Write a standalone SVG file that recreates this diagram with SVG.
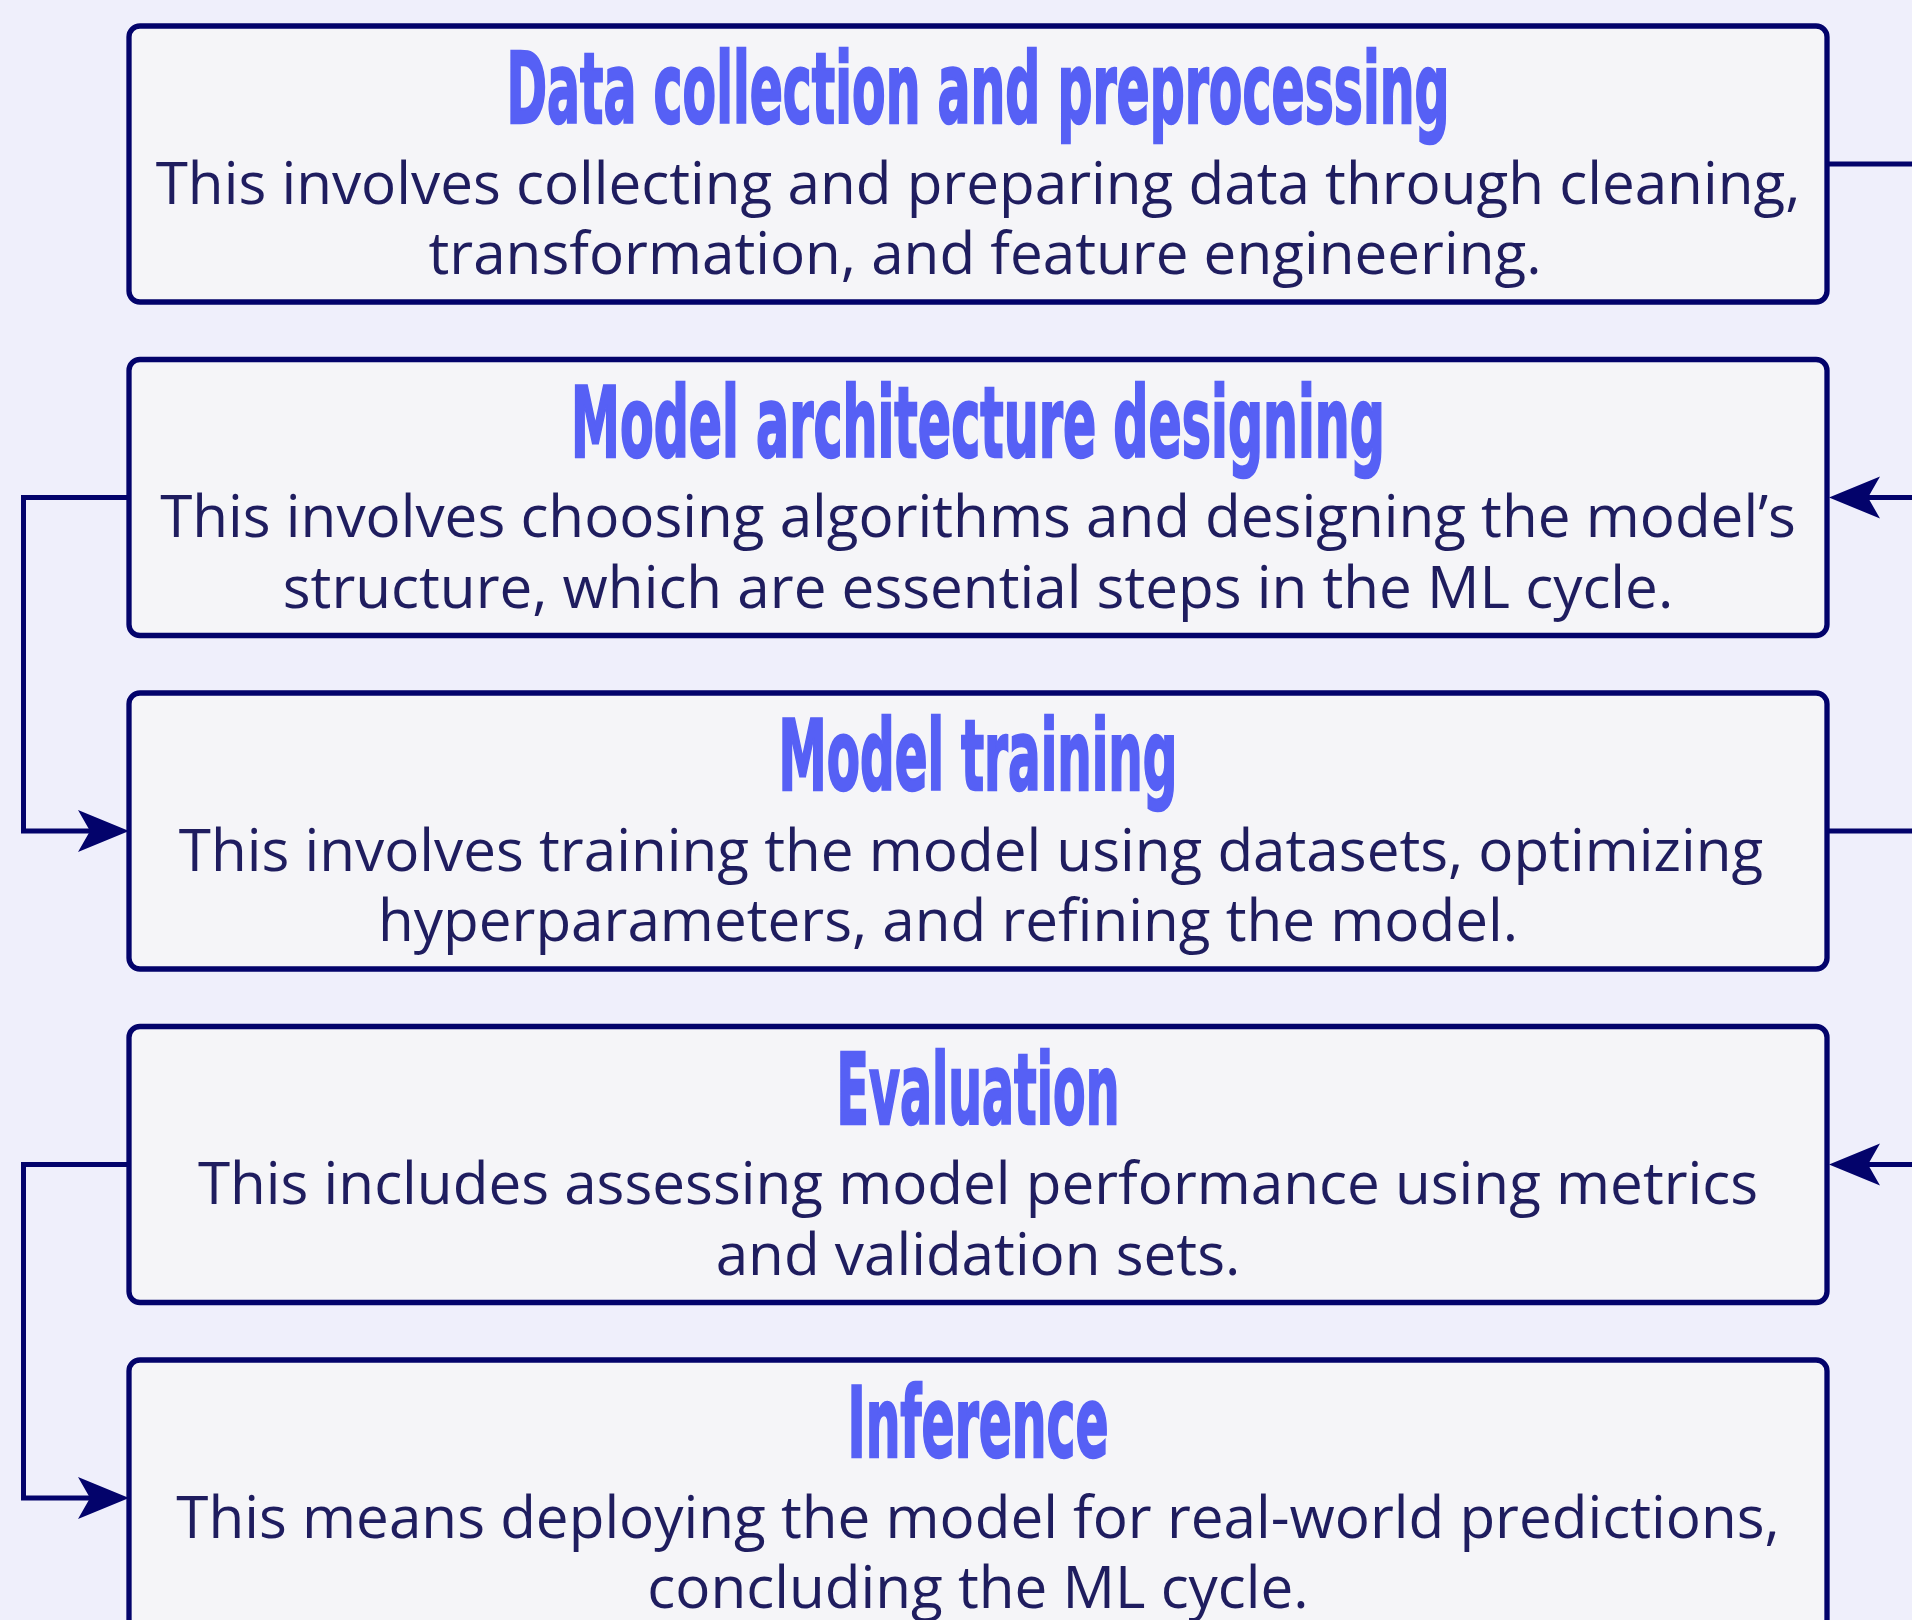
<svg xmlns="http://www.w3.org/2000/svg" width="1912" height="1620" viewBox="0 0 1912 1620">
<defs>
<style>
.box{fill:#f5f5f8;stroke:#03036b;stroke-width:5.3}
.title{font-family:"DejaVu Sans","Liberation Sans",sans-serif;font-weight:bold;font-size:98px;fill:#5660f5;stroke:#5660f5;stroke-width:2.5;text-anchor:middle}
.body{font-family:"Open Sans","Noto Sans",sans-serif;font-size:58.4px;fill:#1f1d5f;text-anchor:middle}
.conn{fill:none;stroke:#03036b;stroke-width:5}
</style>
<marker id="arr" markerUnits="userSpaceOnUse" viewBox="-13 -22 53 44" markerWidth="53" markerHeight="44" refX="0" refY="0" orient="auto">
<path d="M39,0 L-12,-21 L0,0 L-12,21 Z" fill="#03036b"/>
</marker>
</defs>
<rect x="0" y="0" width="1912" height="1620" fill="#efeffb"/>
<g id="connectors">
<path class="conn" d="M1827,164 H1920"/>
<path class="conn" d="M1920,497.5 H1868" marker-end="url(#arr)"/>
<path class="conn" d="M129,497.5 H23.5 V831 H90" marker-end="url(#arr)"/>
<path class="conn" d="M1827,831 H1920"/>
<path class="conn" d="M1920,1164.5 H1868" marker-end="url(#arr)"/>
<path class="conn" d="M129,1164.5 H23.5 V1498 H90" marker-end="url(#arr)"/>
</g>
<g id="node1">
<rect class="box" x="129" y="26" width="1698" height="276" rx="11"/>
<text class="title" x="978" y="123" textLength="943" lengthAdjust="spacingAndGlyphs">Data collection and preprocessing</text>
<text class="body" x="978" y="203.5">This involves collecting and preparing data through cleaning,</text>
<text class="body" x="985" y="274">transformation, and feature engineering.</text>
</g>
<g id="node2">
<rect class="box" x="129" y="359.5" width="1698" height="276" rx="11"/>
<text class="title" x="978" y="456.5" textLength="814" lengthAdjust="spacingAndGlyphs">Model architecture designing</text>
<text class="body" x="978" y="537">This involves choosing algorithms and designing the model’s</text>
<text class="body" x="978" y="607.5">structure, which are essential steps in the ML cycle.</text>
</g>
<g id="node3">
<rect class="box" x="129" y="693" width="1698" height="276" rx="11"/>
<text class="title" x="978" y="790" textLength="399" lengthAdjust="spacingAndGlyphs">Model training</text>
<text class="body" x="971" y="870.5">This involves training the model using datasets, optimizing</text>
<text class="body" x="948" y="941">hyperparameters, and refining the model.</text>
</g>
<g id="node4">
<rect class="box" x="129" y="1026.5" width="1698" height="276" rx="11"/>
<text class="title" x="978" y="1123.5" textLength="283" lengthAdjust="spacingAndGlyphs">Evaluation</text>
<text class="body" x="978" y="1204">This includes assessing model performance using metrics</text>
<text class="body" x="978" y="1274.5">and validation sets.</text>
</g>
<g id="node5">
<rect class="box" x="129" y="1360" width="1698" height="276" rx="11"/>
<text class="title" x="978" y="1457" textLength="261" lengthAdjust="spacingAndGlyphs">Inference</text>
<text class="body" x="978" y="1537.5">This means deploying the model for real-world predictions,</text>
<text class="body" x="978" y="1608">concluding the ML cycle.</text>
</g>
</svg>
